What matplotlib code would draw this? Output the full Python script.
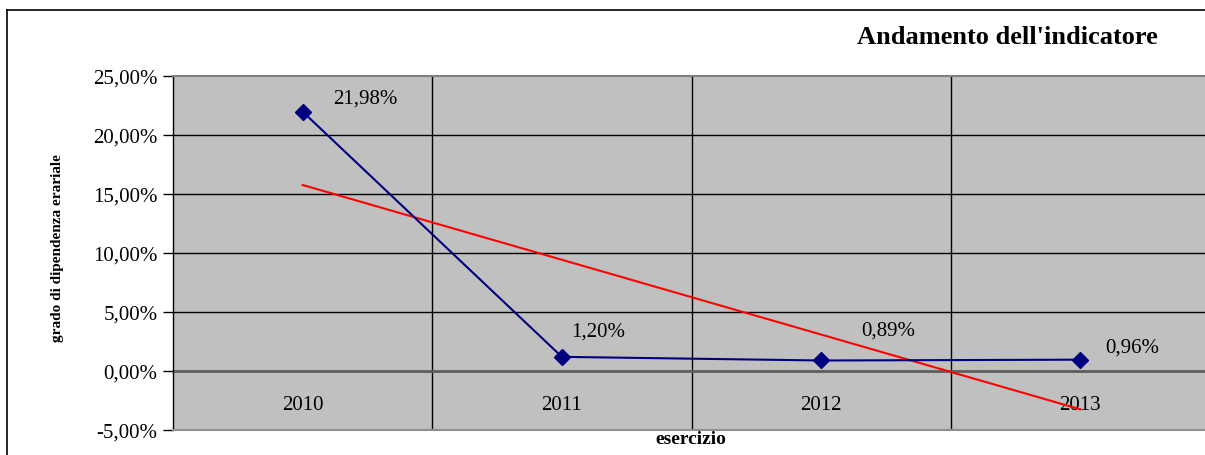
import matplotlib
matplotlib.use("Agg")
import matplotlib.pyplot as plt
from matplotlib.lines import Line2D
import numpy as np

years = ["2010", "2011", "2012", "2013"]
values = [21.98, 1.20, 0.89, 0.96]
value_labels = ["21,98%", "1,20%", "0,89%", "0,96%"]
y_ticks = [-5, 0, 5, 10, 15, 20, 25]
y_tick_labels = ["-5,00%", "0,00%", "5,00%", "10,00%", "15,00%", "20,00%", "25,00%"]

plt.rcParams["font.family"] = ["Liberation Serif", "DejaVu Serif"]

fig = plt.figure(figsize=(12.05, 4.56), dpi=100)
ax = fig.add_axes([173 / 1205, 25 / 456, 1037 / 1205, 354 / 456])
ax.set_facecolor("#C0C0C0")

x = np.arange(len(years))
ax.set_xlim(-0.5, len(years) - 0.5)
ax.set_ylim(-5, 25)

# horizontal gridlines
for t in y_ticks[1:-1]:
    ax.axhline(t, color="black", lw=1.0, zorder=1)
# vertical separators between categories
for b in x[:-1] + 0.5:
    ax.axvline(b, color="black", lw=1.0, zorder=1)
# category axis crossing at zero
ax.axhline(0, color="#606060", lw=2.0, zorder=2)

# linear trend line
slope, intercept = np.polyfit(x + 1, values, 1)
trend = slope * (x + 1) + intercept
ax.plot([x[0], x[-1]], [trend[0], trend[-1]], color="#FF0000", lw=1.5, zorder=4)

ax.plot(x, values, color="#000080", lw=1.5, marker="D", markersize=8,
        markerfacecolor="#000080", markeredgecolor="#000080", zorder=5)

offsets = [(63, 14), (36, 26), (67, 30), (52, 13)]
for xi, v, lab, off in zip(x, values, value_labels, offsets):
    ax.annotate(lab, (xi, v), xytext=off, textcoords="offset pixels",
                ha="center", va="center", fontsize=15, color="black", zorder=6)

for xi, yr in zip(x, years):
    ax.text(xi, -2.85, yr, ha="center", va="center", fontsize=15, color="black")

ax.set_yticks(y_ticks)
ax.set_yticklabels(y_tick_labels, fontsize=15)
ax.set_xticks([])
ax.tick_params(axis="y", direction="out", length=7, width=1, pad=4, colors="black")

for side, sp in ax.spines.items():
    sp.set_visible(False)
ax.spines["left"].set_visible(True)
ax.spines["left"].set_color("black")
ax.spines["left"].set_linewidth(1.0)
ax.spines["top"].set_visible(True)
ax.spines["top"].set_color("#808080")
ax.spines["top"].set_linewidth(1.5)
ax.spines["bottom"].set_visible(True)
ax.spines["bottom"].set_color("#909090")
ax.spines["bottom"].set_linewidth(1.5)

fig.text(58 / 1205, 1 - 248 / 456, "grado di dipendenza erariale", rotation=90,
         ha="center", va="center", fontsize=11, fontweight="bold")
fig.text(691 / 1205, 1 - 440 / 456, "esercizio", ha="center", va="center",
         fontsize=14, fontweight="bold")
fig.text(1007 / 1205, 1 - 38 / 456, "Andamento dell'indicatore", ha="center",
         va="center", fontsize=19, fontweight="bold")

# chart area border
fig.add_artist(Line2D([7 / 1205, 1.0], [1 - 11 / 456, 1 - 11 / 456],
                      color="black", lw=1.2, transform=fig.transFigure))
fig.add_artist(Line2D([7 / 1205, 7 / 1205], [0.0, 1 - 11 / 456],
                      color="black", lw=1.2, transform=fig.transFigure))

fig.savefig("out.png", dpi=100, facecolor="white")
